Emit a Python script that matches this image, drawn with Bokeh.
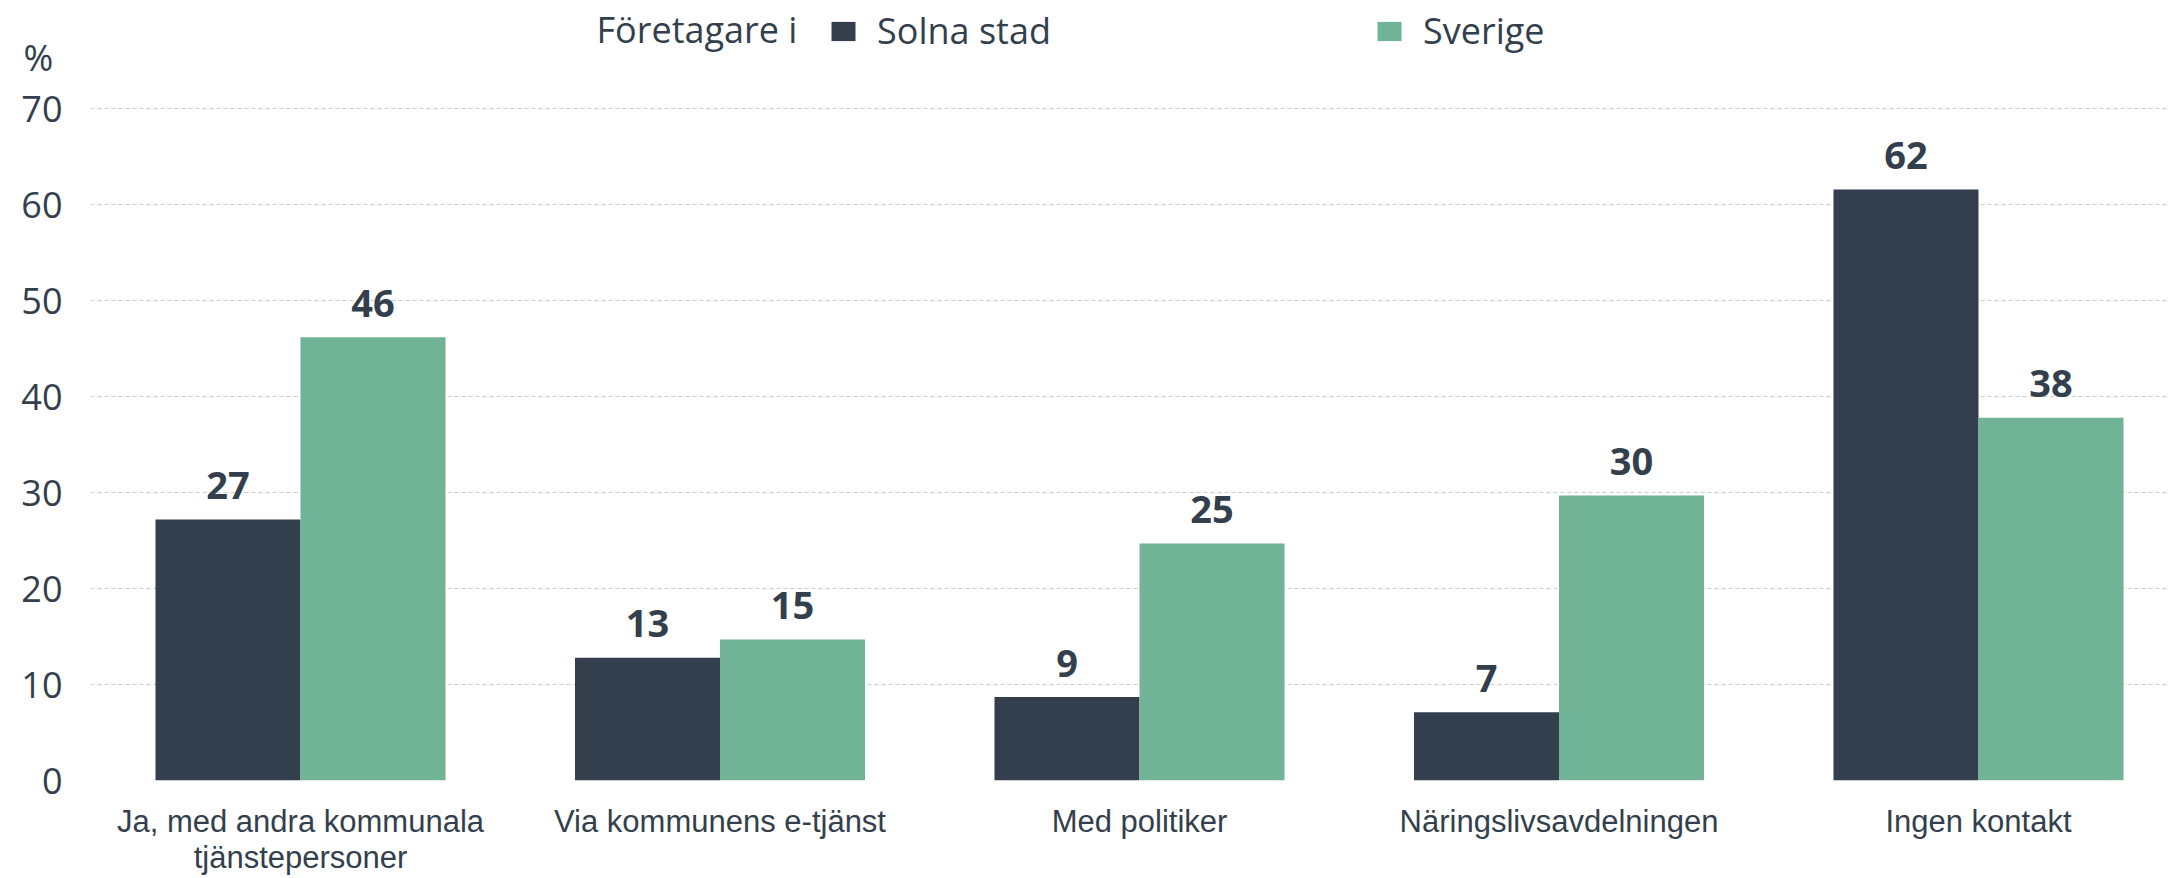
from bokeh.plotting import figure
from bokeh.models import ColumnDataSource, Range1d, FixedTicker, Legend, LegendItem, Label
from bokeh.transform import dodge
from bokeh.core.properties import value
from bokeh.embed import file_html
from bokeh.resources import INLINE

# ---- data ----
categories = [
    "Ja, med andra kommunala\ntjänstepersoner",
    "Via kommunens e-tjänst",
    "Med politiker",
    "Näringslivsavdelningen",
    "Ingen kontakt",
]
solna = [27.2, 12.8, 8.7, 7.1, 61.6]
sverige = [46.2, 14.7, 24.7, 29.7, 37.8]
series_names = ["Solna stad", "Sverige"]
legend_title = "Företagare i"
y_ticks = [0, 10, 20, 30, 40, 50, 60, 70]
y_unit = "%"
y_unit_pos = 75.4

# ---- style ----
DARK = "#333f4c"
GREEN = "#71b396"
TEXT = "#333f4c"
GRID = "#cccccc"
BAR_W = 0.3457
OFF = BAR_W / 2

xs = list(range(len(categories)))
src = ColumnDataSource(dict(
    x=xs,
    solna=solna,
    sverige=sverige,
    solna_lbl=[str(round(v)) for v in solna],
    sverige_lbl=[str(round(v)) for v in sverige],
))

p = figure(
    width=2169, height=878,
    output_backend="svg", toolbar_location=None,
    x_range=Range1d(-0.5006, 4.4553),
    y_range=Range1d(0, 81.29),
    min_border_left=90, min_border_right=0,
    min_border_top=0, min_border_bottom=93,
)
p.outline_line_color = None
p.background_fill_color = "white"
p.border_fill_color = "white"

# axes
p.xaxis.ticker = FixedTicker(ticks=xs)
p.xaxis.major_label_overrides = {i: c for i, c in enumerate(categories)}
p.xaxis.major_label_text_font = "Liberation Sans"
p.xaxis.major_label_text_font_size = "31px"
p.xaxis.major_label_text_color = TEXT
p.xaxis.major_label_text_line_height = 1.05
p.xaxis.major_label_standoff = 23
p.xaxis.axis_line_color = None
p.xaxis.major_tick_line_color = None
p.xaxis.minor_tick_line_color = None
p.xaxis.major_tick_out = 0
p.xaxis.major_tick_in = 0

p.yaxis.ticker = FixedTicker(ticks=y_ticks + [y_unit_pos])
p.yaxis.major_label_overrides = {y_unit_pos: y_unit + "\u00a0"}
p.yaxis.major_label_text_font = "Open Sans"
p.yaxis.major_label_text_font_size = "36px"
p.yaxis.major_label_text_color = TEXT
p.yaxis.major_label_standoff = 28
p.yaxis.axis_line_color = None
p.yaxis.major_tick_line_color = None
p.yaxis.minor_tick_line_color = None
p.yaxis.major_tick_out = 0
p.yaxis.major_tick_in = 0

p.xgrid.visible = False
p.ygrid.ticker = FixedTicker(ticks=y_ticks)
p.ygrid.grid_line_color = GRID
p.ygrid.grid_line_dash = "4 3"
p.ygrid.grid_line_width = 1

# bars
r1 = p.vbar(x=dodge("x", -OFF, range=p.x_range), top="solna", width=BAR_W,
            source=src, fill_color=DARK, line_color=None)
r2 = p.vbar(x=dodge("x", OFF, range=p.x_range), top="sverige", width=BAR_W,
            source=src, fill_color=GREEN, line_color=None)

# value labels
for field, lbl, off in (("solna", "solna_lbl", -OFF), ("sverige", "sverige_lbl", OFF)):
    p.text(x=dodge("x", off, range=p.x_range), y=field, text=lbl, source=src,
           text_font=value("Open Sans"), text_font_size="38px", text_color=TEXT,
           text_font_style="bold",
           text_align="center", text_baseline="alphabetic", y_offset=-34)

# legend title (as a plain label) and legend items
p.add_layout(Label(x=0.7056, y=78.28, text=legend_title, text_align="left",
                   text_baseline="middle", text_font="Open Sans",
                   text_font_size="36px", text_color=TEXT))

legend = Legend(
    items=[LegendItem(label=series_names[0], renderers=[r1]),
           LegendItem(label=series_names[1], renderers=[r2])],
    orientation="horizontal", location=(738, 725),
    label_text_font="Open Sans", label_text_font_size="36px", label_text_color=TEXT,
    glyph_width=30, glyph_height=24, label_standoff=19, spacing=0, label_width=497,
    padding=0, margin=0, border_line_color=None, background_fill_alpha=0,
)
p.add_layout(legend)

open("out.html", "w").write(file_html(p, INLINE))
